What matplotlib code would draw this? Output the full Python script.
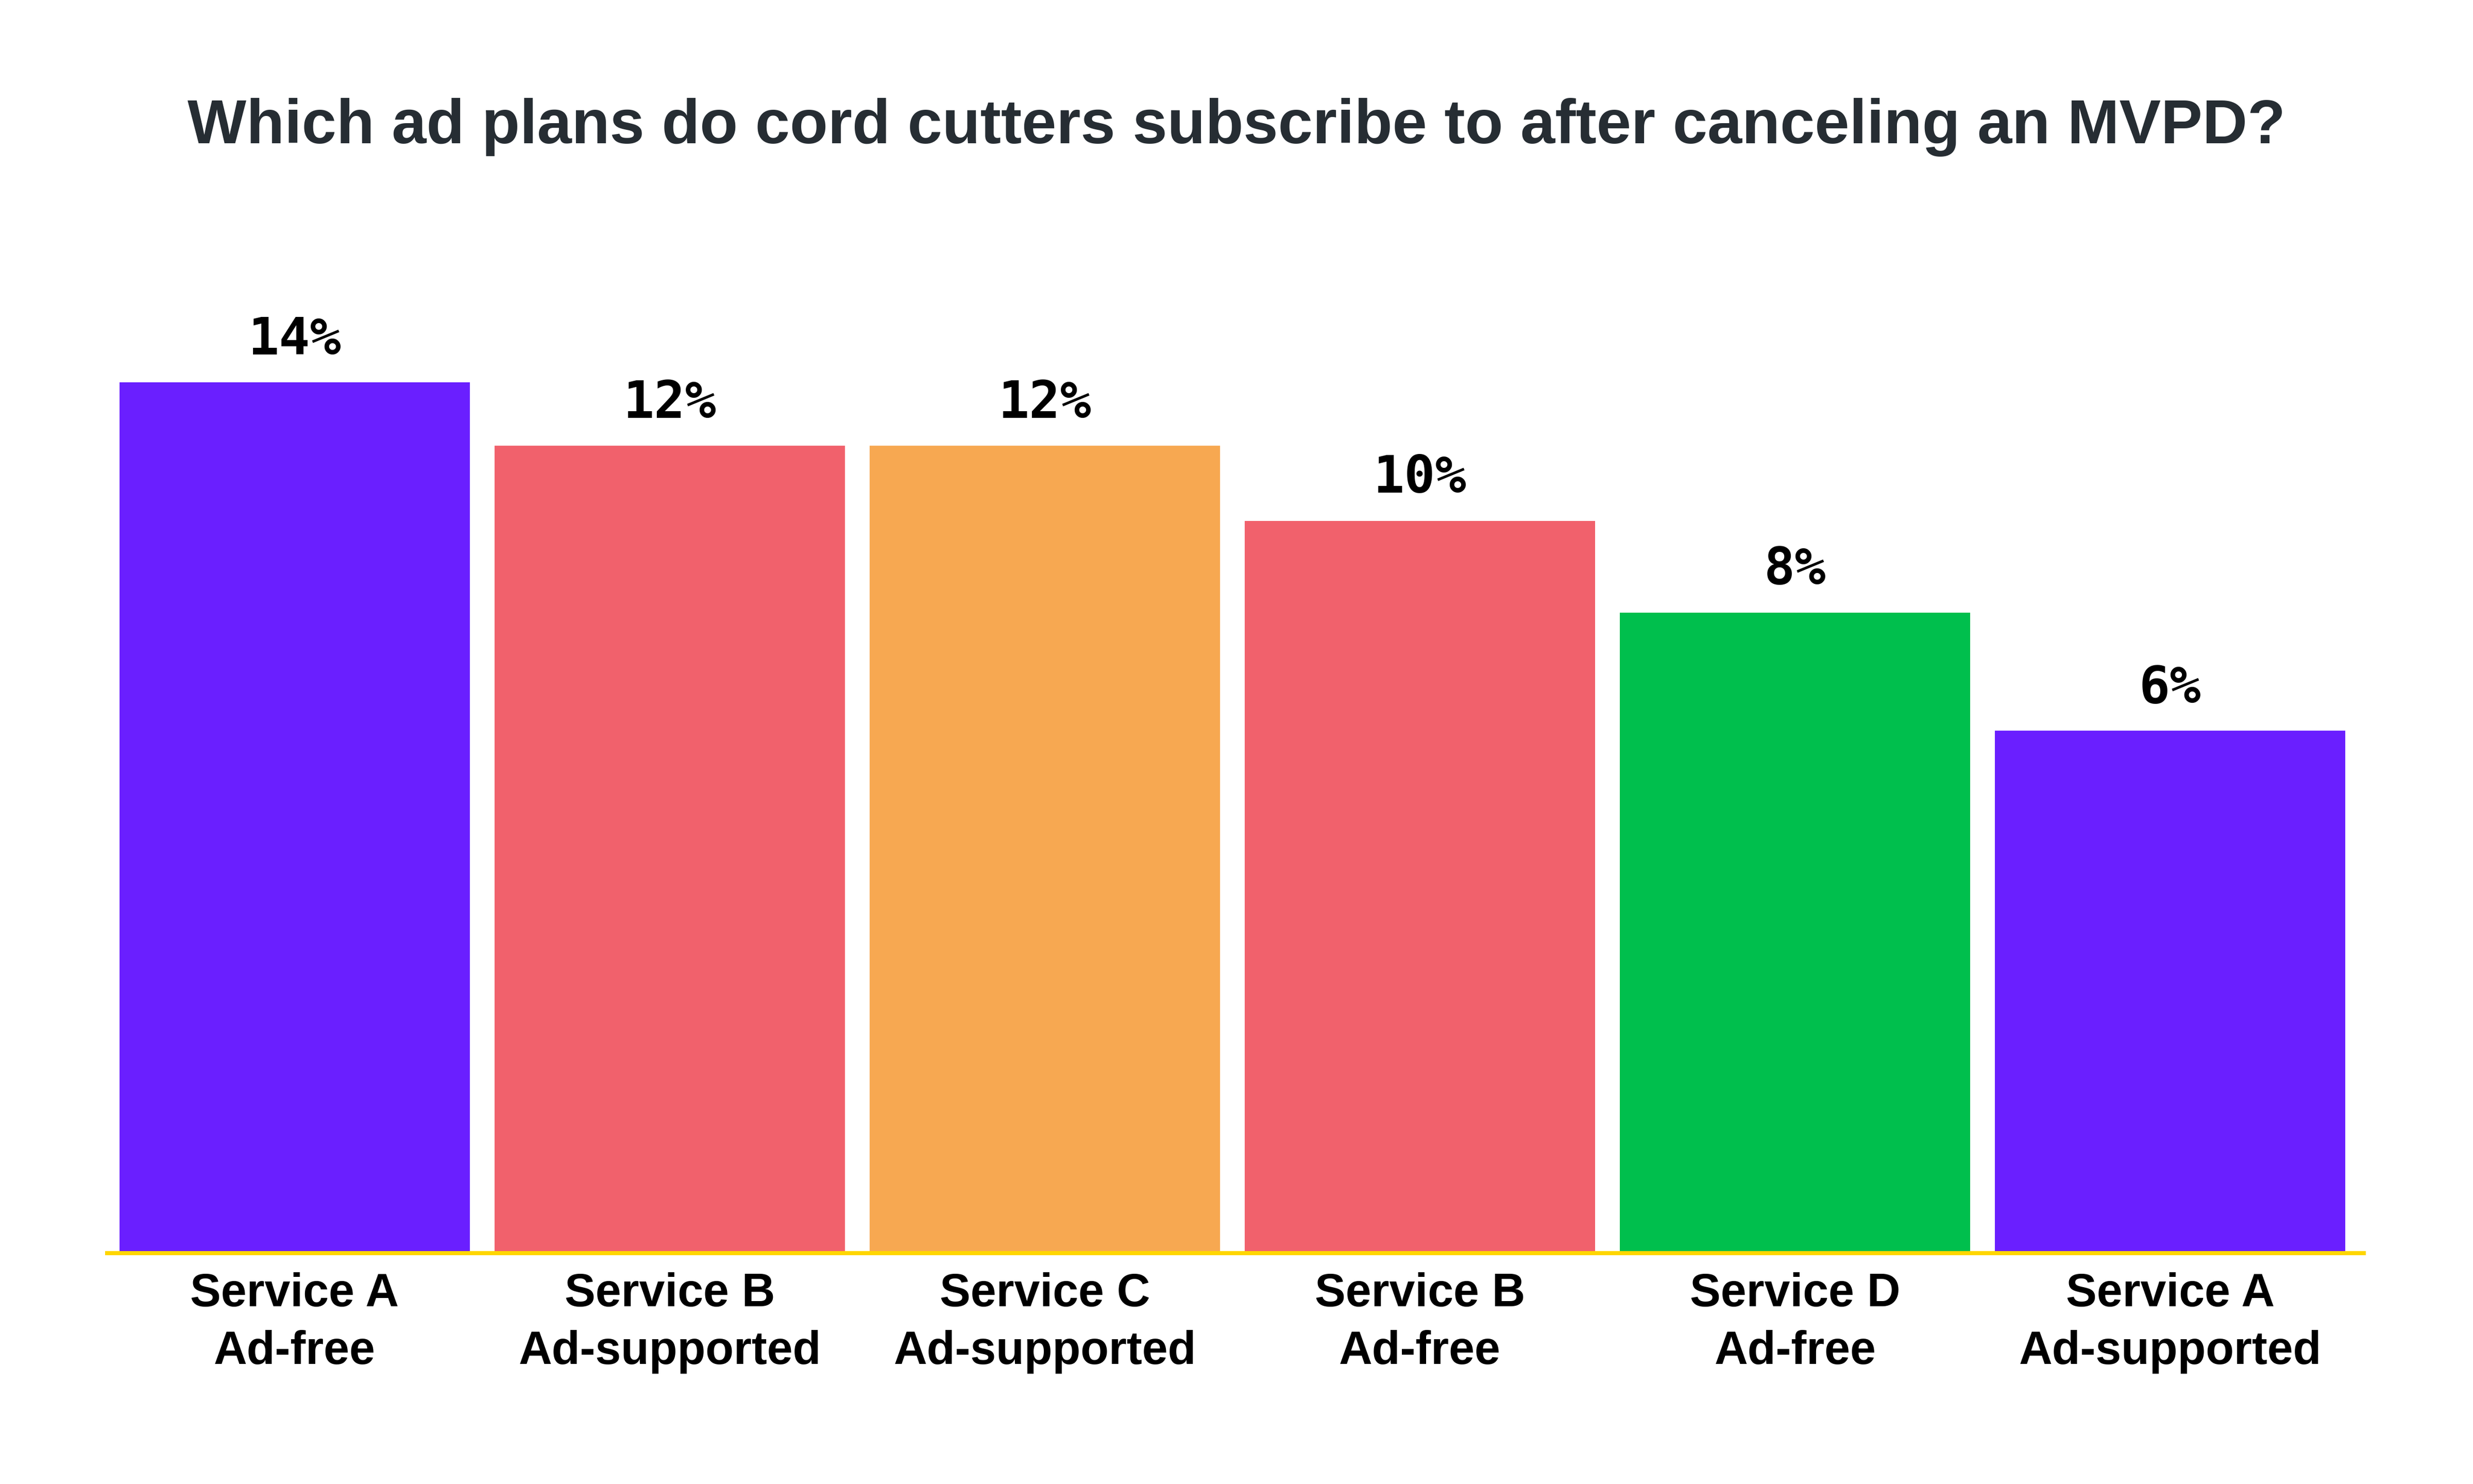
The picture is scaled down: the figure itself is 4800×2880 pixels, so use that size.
import matplotlib
matplotlib.use("Agg")
import matplotlib.pyplot as plt

# data
services = ["Service A", "Service B", "Service C", "Service B", "Service D", "Service A"]
plans = ["Ad-free", "Ad-supported", "Ad-supported", "Ad-free", "Ad-free", "Ad-supported"]
share = [14, 12, 12, 10, 8, 6]
bar_colors = ["#6A1FFF", "#F1616C", "#F7A851", "#F1616C", "#00BF4D", "#6A1FFF"]

title = "Which ad plans do cord cutters subscribe to after canceling an MVPD?"

fig = plt.figure(figsize=(16, 9.6), dpi=300)
fig.patch.set_facecolor("white")

# axes box placed to match the reference layout
ax = fig.add_axes([0.04333, 0.15556, 0.9125, 0.74027])

x = list(range(len(share)))
bars = ax.bar(x, share, width=0.934, color=bar_colors, log=True, zorder=2)

# the source chart uses a log value axis with a baseline just under 2%
ax.set_yscale("log")
ax.set_ylim(1.683, 24.37)
ax.set_xlim(-0.5, 5.516)

# value labels above each bar
for rect, v in zip(bars, share):
    ax.annotate(f"{v}%", (rect.get_x() + rect.get_width() / 2, v),
                xytext=(0, 8), textcoords="offset points",
                ha="center", va="bottom", fontsize=24,
                fontweight="bold", family="DejaVu Sans Mono", color="black")

# category labels
labels = [f"{s}\n{p}" for s, p in zip(services, plans)]
ax.set_xticks(x)
ax.set_xticklabels(labels, fontsize=21.5, fontweight="bold",
                   family="Liberation Sans", linespacing=1.4)
ax.tick_params(axis="x", length=0, pad=9)
ax.tick_params(axis="y", which="both", left=False, labelleft=False)
ax.minorticks_off()
ax.set_yticks([])

for side in ["top", "left", "right"]:
    ax.spines[side].set_visible(False)
ax.spines["bottom"].set_color("#FFD600")
ax.spines["bottom"].set_linewidth(1.92)
ax.spines["bottom"].set_zorder(3)

fig.text(0.5, 1 - 278 / 2880, title, ha="center", va="baseline",
         fontsize=29, fontweight="bold", family="Liberation Sans",
         color="#262D33")

fig.savefig("out.png", dpi=300, facecolor="white")
